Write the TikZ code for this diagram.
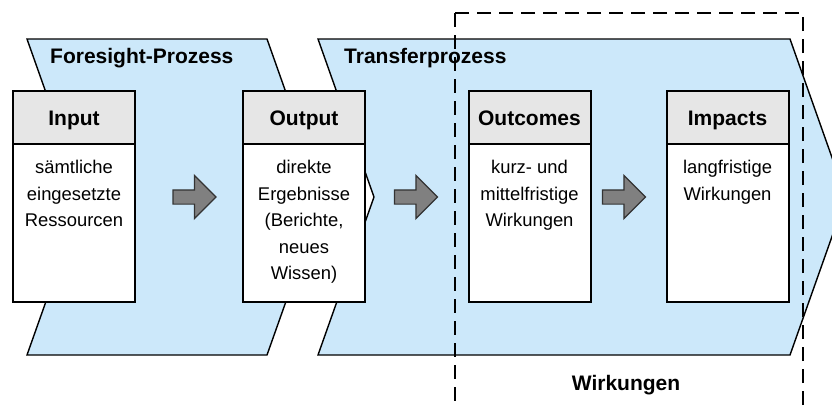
\documentclass[tikz,border=0pt]{standalone}
\usepackage{fontspec}
\setmainfont{Liberation Sans}
\usetikzlibrary{shapes.arrows}

\definecolor{prozessblau}{HTML}{CCE8FA}
\definecolor{kopfgrau}{HTML}{E6E6E6}
\definecolor{pfeilgrau}{HTML}{808080}

\tikzset{
  prozess/.style={draw=black, line width=1.4pt, fill=prozessblau},
  kasten/.style={draw=black, line width=2pt, fill=white, minimum width=122pt, minimum height=211pt, inner sep=0pt},
  kopf/.style={draw=black, line width=2pt, fill=kopfgrau, minimum width=122pt, minimum height=53pt, inner sep=0pt,
    text height=19pt, text depth=4pt, font=\bfseries\fontsize{21}{25}\selectfont},
  inhalt/.style={align=center, inner sep=0pt, font=\fontsize{18.4}{26.5}\selectfont},
  titel/.style={inner sep=0pt, font=\bfseries\fontsize{21}{25}\selectfont},
  blockpfeil/.style={single arrow, draw=black!80, line width=1.2pt, fill=pfeilgrau, inner sep=0pt,
    text height=6.5pt, text depth=6.5pt, minimum height=43pt, single arrow head extend=14.5pt},
  wirkrahmen/.style={draw=black, line width=2pt, dash pattern=on 14pt off 8pt}
}

\begin{document}
\begin{tikzpicture}[x=1pt,y=-1pt]
    \clip (0,0) rectangle (832,405);
    % die beiden Prozesspfeile
    \draw[prozess] (27,39) -- (267,39) -- ++(56,158) -- ++(-56,158) -- (27,355) -- ++(56,-158) -- cycle;
    \draw[prozess] (318,39) -- (790,39) -- ++(56,158) -- ++(-56,158) -- (318,355) -- ++(56,-158) -- cycle;
    \node[titel, anchor=base west] (foresight) at (50,63) {Foresight-Prozess};
    \node[titel, anchor=base west] (transfer) at (344,63) {Transferprozess};
    % Kaesten mit Kopfzeile
    \foreach \n/\x/\kopftext/\beschr in {input/74/Input/{sämtliche\\eingesetzte\\Ressourcen},
        output/304/Output/{direkte\\Ergebnisse\\(Berichte,\\neues\\Wissen)},
        outcomes/529.5/Outcomes/{kurz- und\\mittelfristige\\Wirkungen},
        impacts/727.5/Impacts/{langfristige\\Wirkungen}} {
        \node[kasten] (\n) at (\x,196.5) {};
        \node[kopf, anchor=north] (\n-kopf) at (\n.north) {\kopftext};
        \node[inhalt, anchor=north] (\n-text) at ([yshift=-15pt]\n-kopf.south) {\beschr};
    }
    \foreach \n/\x in {pfeil1/191,pfeil2/412.5,pfeil3/620.5} { \node[blockpfeil] (\n) at (\x,197) {}; }
    % Bereich der Wirkungen
    \draw[wirkrahmen] (455,13) rectangle (803,420);
    \node[titel, anchor=base] (wirkungen) at (626,390) {Wirkungen};
\end{tikzpicture}
\end{document}
